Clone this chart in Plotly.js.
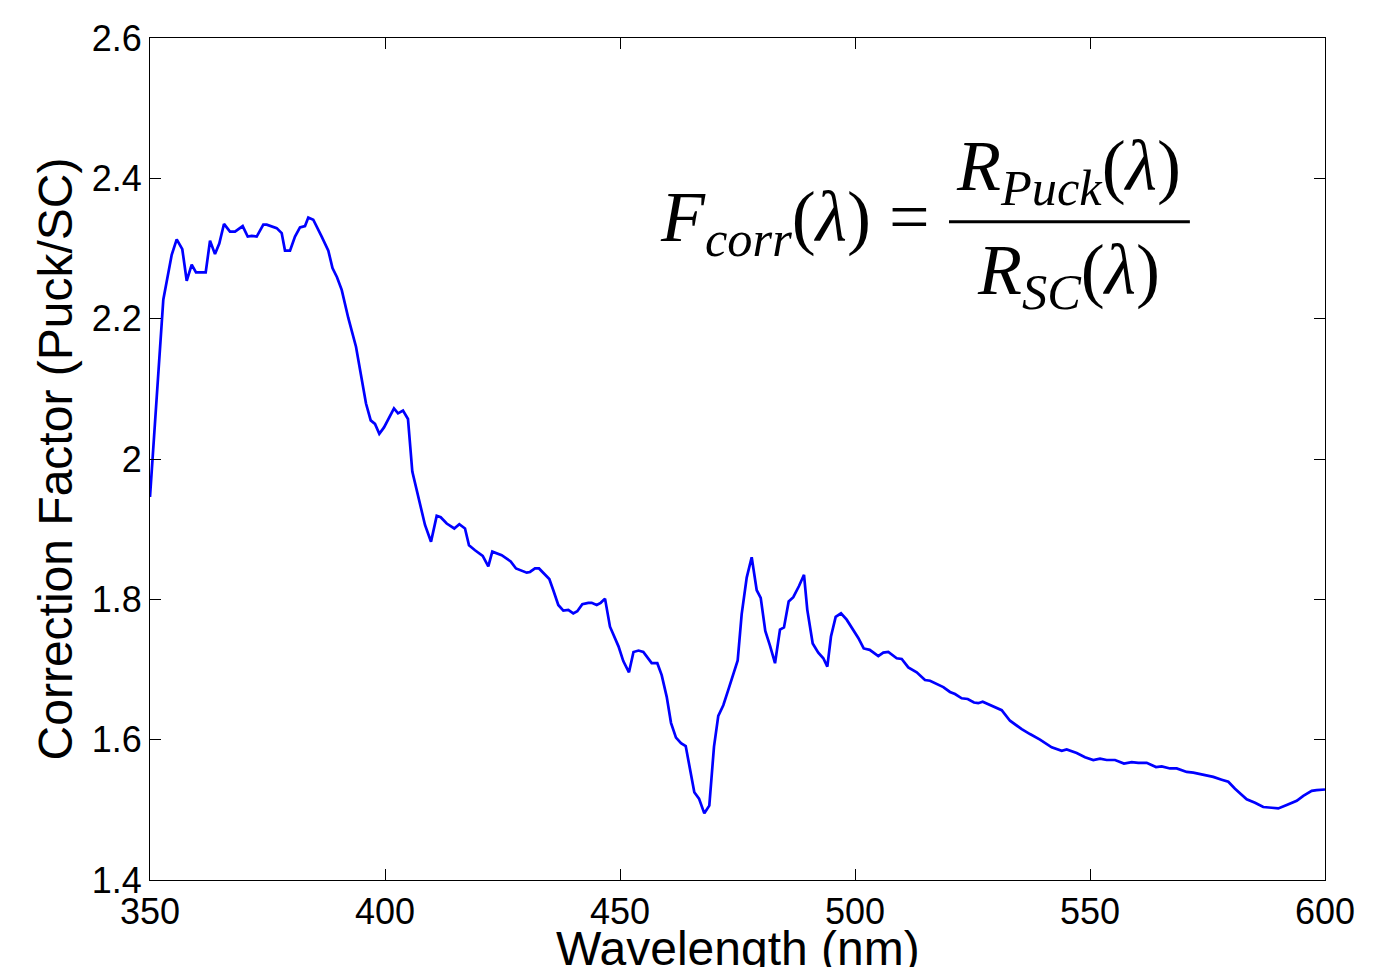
<!DOCTYPE html>
<html>
<head>
<meta charset="utf-8">
<script src="https://cdn.plot.ly/plotly-3.0.1.min.js"></script>
<style>html,body{margin:0;padding:0;background:#fff;}#chart{width:1383px;height:967px;}</style>
</head>
<body>
<div id="chart"></div>
<script>
const wavelength = [350.00,352.83,354.62,355.68,356.87,357.81,358.87,359.79,361.85,362.77,363.83,364.74,365.74,367.02,368.09,369.72,370.79,371.64,372.70,374.11,374.83,376.96,378.02,378.72,379.79,380.85,381.91,382.98,383.68,384.74,386.53,387.94,388.83,389.79,390.79,392.19,393.83,394.68,395.96,396.96,397.87,398.79,399.79,401.91,402.77,403.83,404.89,405.81,407.09,408.51,409.79,411.00,411.85,413.13,414.74,415.81,417.02,417.87,419.15,420.79,421.98,422.83,424.83,426.74,427.87,430.15,430.85,431.91,432.77,433.83,434.96,435.81,436.87,437.94,439.00,440.06,440.91,441.98,443.26,443.98,445.04,445.89,446.81,447.87,449.68,450.70,451.91,452.87,453.94,454.96,456.74,457.94,458.87,459.94,460.85,461.91,462.98,463.98,464.89,465.81,466.81,467.94,469.00,470.00,470.91,471.98,473.04,473.89,475.04,475.89,476.96,478.02,479.09,479.94,480.91,481.91,482.98,484.04,484.89,485.89,486.87,488.09,489.15,489.85,491.00,492.19,493.26,494.11,494.89,495.89,497.02,498.23,499.64,500.70,501.85,503.13,504.96,506.02,507.09,508.87,509.94,511.34,513.13,514.89,515.96,517.38,518.79,520.21,521.28,522.70,523.98,525.32,526.23,527.17,528.72,531.21,532.98,535.47,537.23,539.36,541.85,542.91,543.98,545.04,547.17,548.94,550.70,552.13,553.55,555.32,557.23,558.87,560.28,562.06,564.04,565.26,567.02,568.45,570.57,571.98,574.11,576.23,578.02,579.43,580.85,583.34,585.11,586.87,588.66,590.06,591.85,593.98,595.38,597.17,598.23,600.00];
const correctionFactor = [1.946,2.227,2.291,2.313,2.299,2.254,2.277,2.266,2.266,2.311,2.292,2.307,2.335,2.324,2.324,2.332,2.317,2.318,2.317,2.334,2.334,2.329,2.322,2.297,2.297,2.317,2.330,2.332,2.344,2.341,2.317,2.297,2.272,2.259,2.241,2.201,2.160,2.127,2.079,2.055,2.050,2.036,2.045,2.072,2.065,2.069,2.057,1.982,1.946,1.906,1.882,1.919,1.917,1.908,1.901,1.907,1.901,1.877,1.870,1.862,1.847,1.868,1.863,1.854,1.844,1.838,1.839,1.844,1.844,1.836,1.829,1.813,1.792,1.784,1.785,1.780,1.783,1.793,1.795,1.795,1.792,1.795,1.801,1.761,1.733,1.712,1.696,1.725,1.727,1.725,1.709,1.709,1.692,1.661,1.624,1.603,1.595,1.591,1.559,1.525,1.516,1.495,1.506,1.590,1.634,1.649,1.671,1.690,1.713,1.779,1.831,1.860,1.813,1.802,1.755,1.734,1.709,1.757,1.760,1.797,1.803,1.819,1.835,1.785,1.737,1.724,1.716,1.704,1.747,1.775,1.780,1.771,1.756,1.745,1.730,1.728,1.719,1.724,1.725,1.716,1.715,1.703,1.696,1.685,1.684,1.679,1.675,1.668,1.665,1.659,1.658,1.653,1.652,1.654,1.649,1.642,1.627,1.615,1.608,1.600,1.589,1.587,1.584,1.586,1.581,1.575,1.571,1.573,1.571,1.571,1.566,1.568,1.567,1.567,1.561,1.562,1.559,1.559,1.554,1.553,1.550,1.547,1.543,1.540,1.530,1.515,1.510,1.504,1.503,1.502,1.507,1.513,1.520,1.527,1.528,1.529];
const xTickVals = [350,400,450,500,550,600];
const xTickText = ['350','400','450','500','550','600'];
const yTickVals = [1.4,1.6,1.8,2.0,2.2,2.4,2.6];
const yTickText = ['1.4','1.6','1.8','2','2.2','2.4','2.6'];
const xTitle = 'Wavelength (nm)';
const yTitle = 'Correction Factor (Puck/SC)';

const serif = 'Liberation Serif, Times New Roman, serif';
const sans = 'Liberation Sans, Arial, sans-serif';

const trace = {
  x: wavelength, y: correctionFactor, type: 'scatter', mode: 'lines',
  line: {color: '#0000ff', width: 2.7}, hoverinfo: 'skip'
};

const axisCommon = {
  showgrid: false, zeroline: false, showline: true, linecolor: '#000', linewidth: 1,
  mirror: 'ticks', ticks: 'inside', ticklen: 11, tickwidth: 1, tickcolor: '#000',
  tickfont: {family: sans, size: 36, color: '#000'}
};

const layout = {
  width: 1383, height: 967,
  margin: {l: 150, r: 58, t: 38, b: 87},
  paper_bgcolor: '#fff', plot_bgcolor: '#fff',
  showlegend: false,
  xaxis: Object.assign({}, axisCommon, {
    range: [350, 600], tickvals: xTickVals, ticktext: xTickText
  }),
  yaxis: Object.assign({}, axisCommon, {
    range: [1.4, 2.6], tickvals: yTickVals, ticktext: yTickText,
    title: {text: yTitle, font: {family: sans, size: 48, color: '#000'}, standoff: 3}
  }),
  shapes: [{type: 'line', xref: 'paper', yref: 'paper', x0: 0.680, x1: 0.885, y0: 0.7818, y1: 0.7818,
            line: {color: '#000', width: 3}}],
  annotations: [
    {xref: 'paper', yref: 'paper', x: 0.5, y: -0.0475, xanchor: 'center', yanchor: 'top', showarrow: false,
     text: xTitle, font: {family: sans, size: 48, color: '#000'}},
    {xref: 'paper', yref: 'paper', x: 0.6655, y: 0.7815, xanchor: 'right', yanchor: 'middle', showarrow: false,
     text: '<i>F</i><sub><i>corr</i></sub>(<i>λ</i>) =', font: {family: serif, size: 72, color: '#000'}},
    {xref: 'paper', yref: 'paper', x: 0.7821, y: 0.786, xanchor: 'center', yanchor: 'bottom', showarrow: false,
     text: '<i>R</i><sub><i>Puck</i></sub>(<i>λ</i>)', font: {family: serif, size: 72, color: '#000'}},
    {xref: 'paper', yref: 'paper', x: 0.7821, y: 0.774, xanchor: 'center', yanchor: 'top', showarrow: false,
     text: '<i>R</i><sub><i>SC</i></sub>(<i>λ</i>)', font: {family: serif, size: 72, color: '#000'}}
  ]
};

Plotly.newPlot('chart', [trace], layout, {displayModeBar: false, staticPlot: true});
</script>
</body>
</html>
